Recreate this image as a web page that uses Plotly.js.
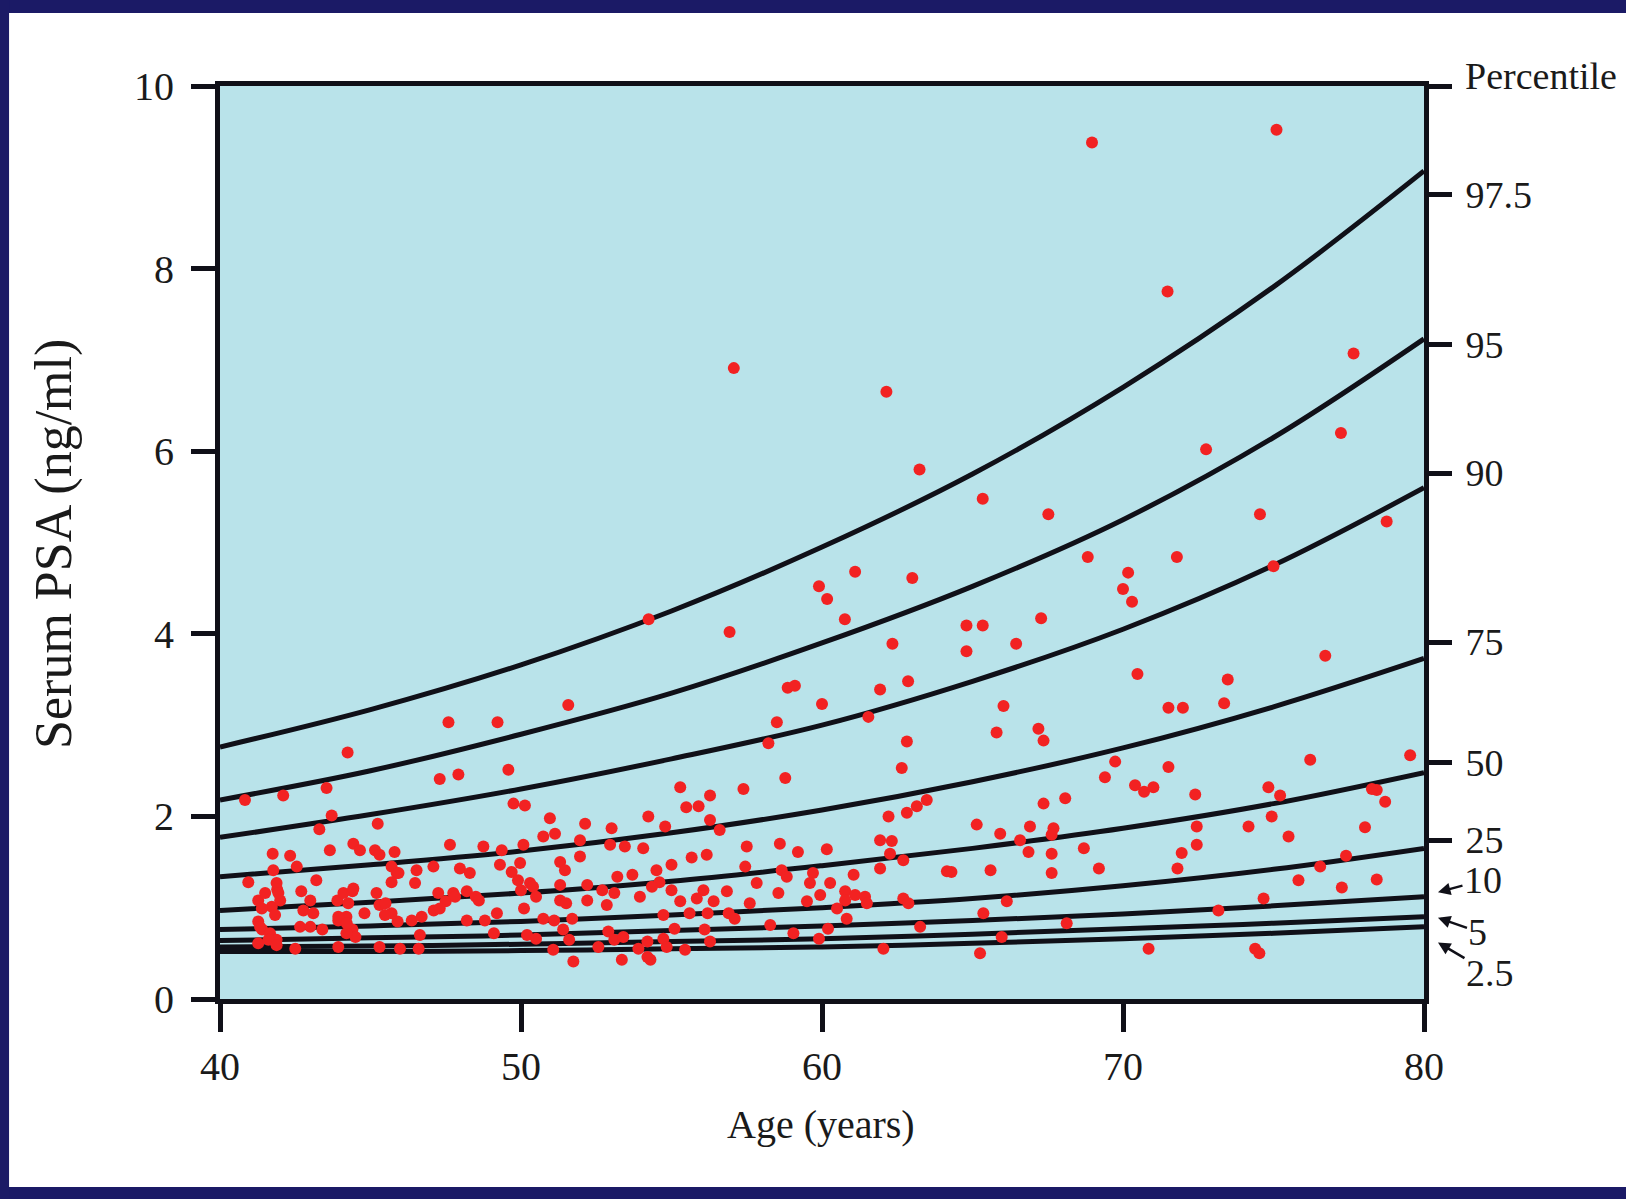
<!DOCTYPE html>
<html>
<head>
<meta charset="utf-8">
<script src="https://cdn.plot.ly/plotly-3.0.1.min.js"></script>
<style>
  html, body { margin: 0; padding: 0; background: #ffffff; overflow: hidden; }
  #chart { width: 1626px; height: 1199px; }
</style>
</head>
<body>
<div id="chart"></div>
<script>
// Percentile curves read at 5-year steps
const curveAges = [40, 45, 50, 55, 60, 65, 70, 75, 80];
const p975 = [2.76, 3.17, 3.66, 4.25, 4.95, 5.75, 6.70, 7.80, 9.07];
const p95  = [2.18, 2.50, 2.90, 3.35, 3.90, 4.52, 5.25, 6.15, 7.23];
const p90  = [1.77, 2.02, 2.30, 2.63, 3.00, 3.48, 4.05, 4.75, 5.60];
const p75  = [1.34, 1.47, 1.62, 1.82, 2.07, 2.38, 2.75, 3.20, 3.73];
const p50  = [0.97, 1.06, 1.16, 1.29, 1.46, 1.65, 1.87, 2.14, 2.48];
const p25  = [0.76, 0.80, 0.85, 0.92, 1.00, 1.10, 1.24, 1.42, 1.65];
const p10  = [0.64, 0.67, 0.70, 0.75, 0.80, 0.86, 0.93, 1.02, 1.12];
const p5   = [0.57, 0.58, 0.60, 0.63, 0.66, 0.71, 0.77, 0.83, 0.90];
const p2_5 = [0.52, 0.52, 0.53, 0.55, 0.57, 0.61, 0.66, 0.72, 0.79];

// Right-hand percentile tick labels
const pctTickVals = [10, 8.81, 7.17, 5.76, 3.91, 2.59, 1.74];
const pctTickText = ['', '97.5', '95', '90', '75', '50', '25'];
// Low percentiles labelled with pointers: label, curve value at age 80 end
const lowLabels = ['10', '5', '2.5'];
const lowTargets = [1.17, 0.89, 0.62];

// Individual observations: age (years), serum PSA (ng/ml)
const obsAge = [
 51.57,47.59,49.22,44.24,40.83,42.1,43.54,47.3,47.92,49.58,49.75,50.13,43.71,43.3,45.24,50.96,51.13,50.74,52.13,51.96,
 53.01,52.96,53.45,54.06,54.23,41.75,42.33,42.55,43.65,44.43,44.65,45.15,45.3,45.8,47.64,48.75,49.36,50.08,51.96,51.3,
 51.46,40.94,41.77,41.88,43.2,45.87,45.7,46.53,47.09,46.48,47.97,48.3,49.3,49.69,49.97,50.3,51.3,52.2,52.7,53.2,
 53.1,53.7,41.27,41.5,41.72,42.0,41.9,42.7,43.0,42.77,43.1,43.9,44.1,44.4,43.93,44.2,44.4,44.5,44.8,45.2,
 45.3,45.5,45.7,45.9,46.37,46.7,47.25,47.75,47.5,47.1,48.2,48.5,48.6,48.2,48.8,49.2,49.1,49.9,50.0,50.4,
 50.5,50.1,50.2,50.5,50.74,51.1,51.3,51.5,51.7,51.4,51.6,51.07,51.74,52.2,52.85,52.9,53.1,53.4,53.35,52.57,
 53.95,53.9,54.2,54.2,41.27,41.4,41.66,41.88,41.27,42.5,42.66,43.0,43.4,43.93,44.2,45.3,45.98,46.6,46.64,
 41.39,41.83,41.33,41.61,41.88,44.43,44.26,43.93,44.21,45.48,47.3,47.81,41.94,45.7,45.93,
 60.0,61.54,66.03,58.5,58.22,58.78,65.8,67.19,67.36,62.82,62.65,55.29,56.28,57.39,55.49,55.9,56.28,54.79,56.6,69.74,
 69.4,70.4,70.7,67.36,68.08,63.48,63.15,62.82,62.21,65.14,65.92,66.91,67.69,67.63,66.58,66.86,67.63,68.7,69.2,67.63,
 65.6,64.3,64.15,57.5,58.6,59.2,60.16,61.93,62.32,62.26,62.7,61.93,55.67,56.17,55.0,54.5,57.45,58.66,58.83,59.7,
 61.05,54.6,54.35,55.0,56.06,55.84,55.29,56.4,56.84,57.83,57.6,58.55,59.5,59.6,59.94,60.27,60.77,61.1,61.43,61.49,
 60.77,60.5,60.82,62.7,62.87,66.14,65.36,68.13,54.73,55.6,56.2,56.9,57.1,55.1,56.1,58.28,59.05,60.2,59.9,63.26,
 54.73,54.84,55.45,56.28,62.04,65.97,65.25,54.3,70.85,
 71.51,71.99,73.36,71.51,71.01,72.4,76.22,79.54,74.83,75.22,78.43,78.71,78.27,74.94,74.17,72.45,75.5,78.04,72.45,71.95,
 71.81,77.41,76.55,75.83,77.27,78.43,74.67,73.17,74.39,74.53,
 68.97,75.1,71.48,77.66,57.07,62.14,77.24,72.76,63.24,65.34,67.52,74.55,78.76,68.83,71.79,75.0,70.17,70.0,70.3,59.9,
 60.17,61.1,60.76,63.0,54.24,56.93,64.8,65.34,64.8,67.28,66.45,62.34,76.72,70.48,73.48,61.93,62.86,58.86,59.1
];
const obsPSA = [
 3.22,3.03,3.03,2.70,2.18,2.23,2.31,2.41,2.46,2.51,2.14,2.12,2.01,1.86,1.92,1.98,1.81,1.78,1.92,1.74,
 1.87,1.69,1.67,1.65,2.00,1.59,1.57,1.45,1.63,1.70,1.63,1.63,1.58,1.61,1.69,1.67,1.63,1.69,1.56,1.50,
 1.41,1.28,1.41,1.27,1.30,1.38,1.28,1.41,1.45,1.27,1.43,1.38,1.47,1.39,1.49,1.27,1.25,1.25,1.19,1.34,
 1.16,1.36,1.08,1.16,1.01,1.08,1.20,1.18,1.08,0.97,0.94,1.08,1.16,1.18,0.86,0.90,0.76,0.68,0.94,1.16,
 1.03,1.05,0.94,0.85,0.86,0.90,1.16,1.16,1.07,0.97,1.18,1.12,1.08,0.86,0.86,0.94,0.72,1.30,1.19,1.23,
 1.12,0.99,0.70,0.66,0.88,0.86,1.08,1.05,0.88,0.76,0.65,0.54,0.41,1.08,1.03,0.74,0.65,0.68,0.43,0.57,
 1.12,0.55,0.63,0.46,0.85,0.76,0.72,0.65,0.61,0.55,0.79,0.79,0.76,0.57,0.72,0.57,0.55,0.55,0.70,
 0.99,0.92,0.79,0.65,0.59,1.21,1.05,0.90,0.83,0.92,0.99,1.12,1.16,1.45,1.38,
 3.23,3.09,3.21,3.03,2.80,2.42,2.92,2.96,2.83,2.82,2.53,2.32,2.23,2.30,2.10,2.11,1.96,1.89,1.85,2.60,
 2.43,2.34,2.27,2.14,2.20,2.18,2.11,2.04,2.00,1.91,1.81,1.89,1.87,1.80,1.74,1.61,1.59,1.65,1.43,1.38,
 1.41,1.39,1.40,1.67,1.70,1.61,1.64,1.74,1.73,1.59,1.52,1.43,1.55,1.58,1.47,1.41,1.45,1.41,1.34,1.38,
 1.36,1.28,1.23,1.19,1.19,1.10,1.07,1.07,1.18,1.27,1.05,1.16,1.07,1.27,1.14,1.27,1.18,1.14,1.12,1.05,
 1.08,0.99,0.88,1.10,1.05,1.07,0.94,0.83,0.92,0.94,0.94,0.94,0.88,0.77,0.76,0.81,0.72,0.77,0.66,0.79,
 0.66,0.57,0.54,0.63,0.55,0.68,0.50,0.43,0.55,
 3.19,3.19,3.24,2.54,2.32,2.24,2.62,2.67,2.32,2.23,2.29,2.16,2.30,2.00,1.89,1.89,1.78,1.88,1.69,1.60,
 1.43,1.57,1.45,1.30,1.22,1.31,1.10,0.97,0.55,0.50,
 9.38,9.52,7.75,7.07,6.91,6.65,6.20,6.02,5.80,5.48,5.31,5.31,5.23,4.84,4.84,4.74,4.67,4.49,4.35,4.52,
 4.38,4.68,4.16,4.61,4.16,4.02,4.09,4.09,3.81,4.17,3.89,3.89,3.76,3.56,3.50,3.39,3.48,3.41,3.43
];

const serif = 'Liberation Serif, Times New Roman, serif';
const ink = '#101018';
const navy = '#1b1a66';
const textCol = '#1a1a1a';

const curveSets = [p975, p95, p90, p75, p50, p25, p10, p5, p2_5];
const traces = curveSets.map(function (vals) {
  return {
    x: curveAges, y: vals, type: 'scatter', mode: 'lines',
    line: { color: ink, width: 5, shape: 'spline', smoothing: 1 },
    hoverinfo: 'skip', showlegend: false, xaxis: 'x', yaxis: 'y'
  };
});
traces.push({
  x: obsAge, y: obsPSA, type: 'scatter', mode: 'markers',
  marker: { color: '#f22222', size: 12, line: { width: 0 } },
  showlegend: false, xaxis: 'x', yaxis: 'y2'
});

// paper coords: X = 220 + px*1204 ; Y = 999 - py*913
const shapes = [
  { type: 'rect', xref: 'paper', yref: 'paper', x0: -0.3, x1: 1.3, y0: 1.0800, y1: 1.2, fillcolor: navy, line: { width: 0 } },
  { type: 'rect', xref: 'paper', yref: 'paper', x0: -0.3, x1: 1.3, y0: -0.3, y1: -0.2059, fillcolor: navy, line: { width: 0 } },
  { type: 'rect', xref: 'paper', yref: 'paper', x0: -0.3, x1: -0.1752, y0: -0.3, y1: 1.2, fillcolor: navy, line: { width: 0 } }
];

const labelOffsets = [[45, -12], [40, 14], [52, 31]];
const annotations = [
  { text: 'Serum PSA (ng/ml)', xref: 'paper', yref: 'paper', x: -0.1379, y: 0.4984,
    textangle: -90, showarrow: false, xanchor: 'center', yanchor: 'middle',
    font: { family: serif, size: 52, color: textCol } },
  { text: 'Age (years)', xref: 'paper', yref: 'paper', x: 0.499, y: -0.138,
    showarrow: false, xanchor: 'center', yanchor: 'middle',
    font: { family: serif, size: 40, color: textCol } },
  { text: 'Percentile', xref: 'paper', yref: 'paper', x: 1.0972, y: 1.011,
    showarrow: false, xanchor: 'center', yanchor: 'middle',
    font: { family: serif, size: 38, color: textCol } }
];
lowLabels.forEach(function (lab, i) {
  annotations.push({
    text: lab, xref: 'paper', yref: 'paper', x: 1.0116, y: lowTargets[i] / 10,
    ax: labelOffsets[i][0], ay: labelOffsets[i][1],
    showarrow: true, arrowhead: 2, arrowsize: 1, arrowwidth: 2.5, arrowcolor: ink, standoff: 0,
    font: { family: serif, size: 38, color: textCol }
  });
});

const layout = {
  width: 1626, height: 1199,
  margin: { l: 220, r: 202, t: 86, b: 200, pad: 0 },
  paper_bgcolor: '#ffffff',
  plot_bgcolor: '#b9e3ea',
  showlegend: false,
  xaxis: {
    range: [40, 80], tickvals: [40, 50, 60, 70, 80], ticktext: ['40', '50', '60', '70', '80'],
    ticks: 'outside', ticklen: 28, tickwidth: 5, tickcolor: ink,
    showline: true, linewidth: 5, linecolor: ink, mirror: true,
    showgrid: false, zeroline: false, ticklabelstandoff: 0,
    tickfont: { family: serif, size: 40, color: textCol }
  },
  yaxis: {
    range: [0, 10], tickvals: [0, 2, 4, 6, 8, 10], ticktext: ['0', '2', '4', '6', '8', '10'],
    ticks: 'outside', ticklen: 24, tickwidth: 5, tickcolor: ink,
    showline: true, linewidth: 5, linecolor: ink,
    showgrid: false, zeroline: false, ticklabelstandoff: 9,
    tickfont: { family: serif, size: 40, color: textCol }
  },
  yaxis2: {
    overlaying: 'y', side: 'right', range: [0, 10],
    tickvals: pctTickVals, ticktext: pctTickText,
    ticks: 'outside', ticklen: 23, tickwidth: 5, tickcolor: ink,
    showline: true, linewidth: 5, linecolor: ink,
    showgrid: false, zeroline: false, ticklabelstandoff: 6,
    tickfont: { family: serif, size: 38, color: textCol }
  },
  shapes: shapes,
  annotations: annotations
};

Plotly.newPlot('chart', traces, layout, { displayModeBar: false, staticPlot: true });
</script>
</body>
</html>
